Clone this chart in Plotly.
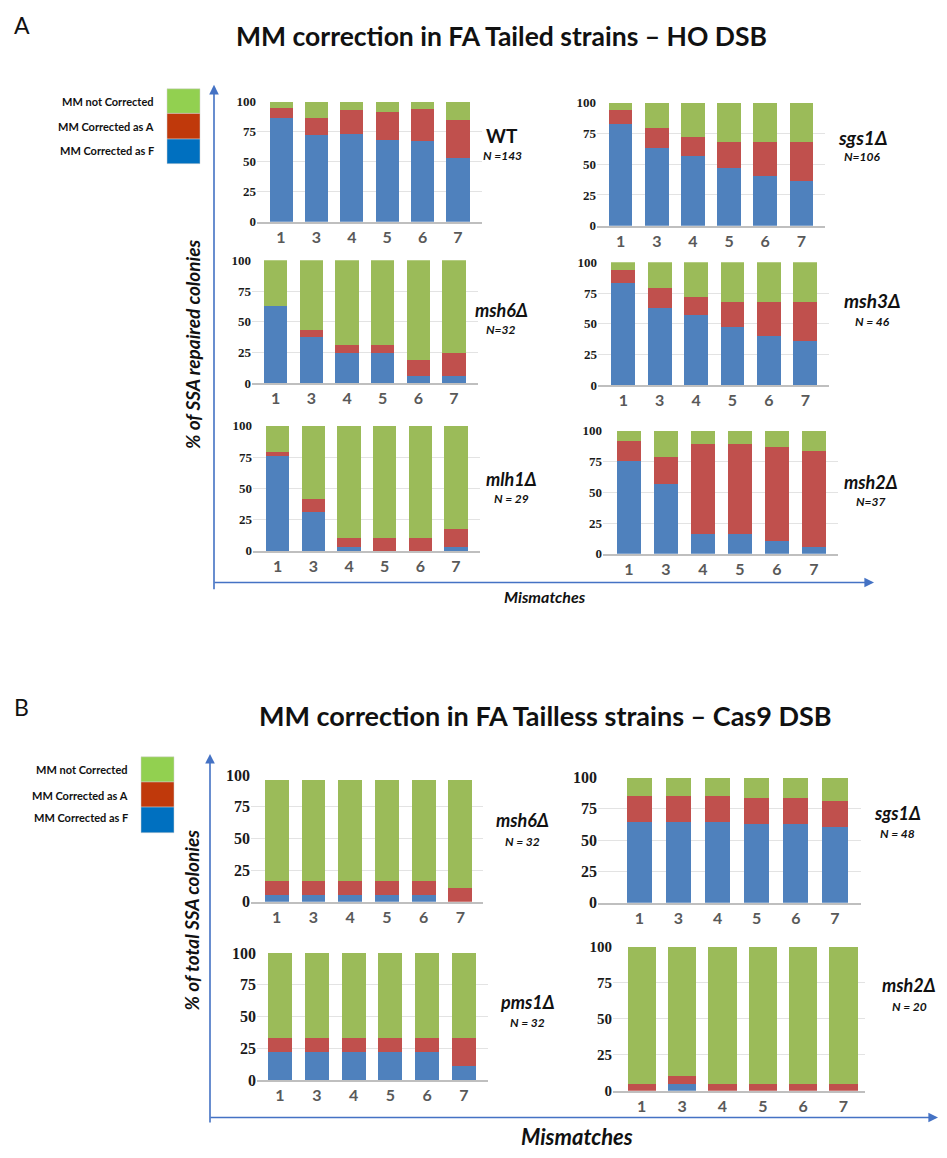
import plotly.graph_objects as go

W, H = 947, 1158


def fx(p):
    return p / W


def fy(p):
    return 1 - p / H


# ---------------- data ----------------
mismatches = ["1", "3", "4", "5", "6", "7"]
series_names = ["MM Corrected as F", "MM Corrected as A", "MM not Corrected"]

# Panel A: FA tailed strains, HO DSB (% of SSA repaired colonies)
wt_f = [86, 72, 73, 68, 67, 53]
wt_a = [9, 14, 20, 23, 27, 32]
wt_n = [5, 14, 7, 9, 6, 15]

sgs1_tailed_f = [83, 63, 57, 47, 40, 36]
sgs1_tailed_a = [11, 16, 15, 21, 28, 32]
sgs1_tailed_n = [6, 21, 28, 32, 32, 32]

msh6_tailed_f = [62.5, 37.5, 25, 25, 6.25, 6.25]
msh6_tailed_a = [0, 6.25, 6.25, 6.25, 12.5, 18.75]
msh6_tailed_n = [37.5, 56.25, 68.75, 68.75, 81.25, 75]

msh3_tailed_f = [83, 63, 57, 47, 40, 36]
msh3_tailed_a = [11, 16, 15, 21, 28, 32]
msh3_tailed_n = [6, 21, 28, 32, 32, 32]

mlh1_tailed_f = [75.9, 31.0, 3.4, 0, 0, 3.4]
mlh1_tailed_a = [3.4, 10.3, 6.9, 10.3, 10.3, 13.8]
mlh1_tailed_n = [20.7, 58.7, 89.7, 89.7, 89.7, 82.8]

msh2_tailed_f = [75.7, 56.8, 16.2, 16.2, 10.8, 5.4]
msh2_tailed_a = [16.2, 21.6, 73.0, 73.0, 75.7, 78.4]
msh2_tailed_n = [8.1, 21.6, 10.8, 10.8, 13.5, 16.2]

# Panel B: FA tailless strains, Cas9 DSB (% of total SSA colonies)
msh6_tailless_f = [5.5, 5.5, 5.5, 5.5, 5.5, 0]
msh6_tailless_a = [11, 11, 11, 11, 11, 11]
msh6_tailless_n = [79.5, 79.5, 79.5, 79.5, 79.5, 85]

sgs1_tailless_f = [64.6, 64.6, 64.6, 62.5, 62.5, 60.4]
sgs1_tailless_a = [20.8, 20.8, 20.8, 20.8, 20.8, 20.8]
sgs1_tailless_n = [14.6, 14.6, 14.6, 16.7, 16.7, 18.8]

pms1_tailless_f = [22, 22, 22, 22, 22, 11]
pms1_tailless_a = [11, 11, 11, 11, 11, 22]
pms1_tailless_n = [67, 67, 67, 67, 67, 67]

msh2_tailless_f = [0, 5, 0, 0, 0, 0]
msh2_tailless_a = [5, 5, 5, 5, 5, 5]
msh2_tailless_n = [95, 90, 95, 95, 95, 95]

y_ticks = [0, 25, 50, 75, 100]

# ---------------- styling ----------------
BAR_COLORS = ["#4F81BD", "#C0504D", "#9BBB59"]
LEGEND_COLORS = ["#0070C0", "#C0390B", "#92D050"]
ARROW = "#4472C4"
SANS = "Lato"
SERIF = "Liberation Serif"
INK = "#111111"

# subplot geometry in pixels: axis span (x0, x1), first/last bar centre (c0, c5),
# y pixel of 100 and of 0, tick font sizes, bar width, strain label placement
panels = [
    dict(data=(wt_f, wt_a, wt_n), x=(257, 482), c=(281, 458), y=(95, 217), xs=16, ys=13, bw=0.65,
         name="<b>WT</b>", nsize=19, n="<b><i>N =143</i></b>", lx=502, ly=129, ny=150),
    dict(data=(sgs1_tailed_f, sgs1_tailed_a, sgs1_tailed_n), x=(597, 825), c=(620.7, 801.3), y=(96, 221),
         xs=16, ys=13, bw=0.65,
         name="<b><i>sgs1Δ</i></b>", nsize=19, n="<b><i>N=106</i></b>", lx=862, ly=131, ny=151),
    dict(data=(msh6_tailed_f, msh6_tailed_a, msh6_tailed_n), x=(252, 478), c=(275.7, 454), y=(256, 381),
         xs=16, ys=13, bw=0.65,
         name="<b><i>msh6Δ</i></b>", nsize=18, n="<b><i>N=32</i></b>", lx=501, ly=306, ny=326),
    dict(data=(msh3_tailed_f, msh3_tailed_a, msh3_tailed_n), x=(598, 829), c=(623.3, 805.3), y=(258, 383),
         xs=16, ys=13, bw=0.65,
         name="<b><i>msh3Δ</i></b>", nsize=19, n="<b><i>N = 46</i></b>", lx=872, ly=297, ny=318),
    dict(data=(mlh1_tailed_f, mlh1_tailed_a, mlh1_tailed_n), x=(253, 480), c=(277.7, 456), y=(424, 551),
         xs=16, ys=13, bw=0.65,
         name="<b><i>mlh1Δ</i></b>", nsize=18, n="<b><i>N = 29</i></b>", lx=511, ly=478, ny=498),
    dict(data=(msh2_tailed_f, msh2_tailed_a, msh2_tailed_n), x=(603, 838), c=(629, 814), y=(429, 554),
         xs=16, ys=13, bw=0.65,
         name="<b><i>msh2Δ</i></b>", nsize=18, n="<b><i>N=37</i></b>", lx=871, ly=481, ny=501),
    dict(data=(msh6_tailless_f, msh6_tailless_a, msh6_tailless_n), x=(251, 483), c=(276.7, 460.4),
         y=(778.5, 907), xs=16, ys=16, bw=0.65,
         name="<b><i>msh6Δ</i></b>", nsize=18, n="<b><i>N = 32</i></b>", lx=522, ly=824, ny=846),
    dict(data=(sgs1_tailless_f, sgs1_tailless_a, sgs1_tailless_n), x=(598, 861), c=(639.3, 835),
         y=(781, 908), xs=16, ys=16, bw=0.64,
         name="<b><i>sgs1Δ</i></b>", nsize=18, n="<b><i>N = 48</i></b>", lx=897, ly=817, ny=838),
    dict(data=(pms1_tailless_f, pms1_tailless_a, pms1_tailless_n), x=(257, 488), c=(280, 464),
         y=(959, 1088), xs=16, ys=16, bw=0.65,
         name="<b><i>pms1Δ</i></b>", nsize=18, n="<b><i>N = 32</i></b>", lx=527, ly=1009, ny=1030),
    dict(data=(msh2_tailless_f, msh2_tailless_a, msh2_tailless_n), x=(613, 865), c=(641.7, 843.5),
         y=(953, 1099), xs=16, ys=15, bw=0.70,
         name="<b><i>msh2Δ</i></b>", nsize=18, n="<b><i>N = 20</i></b>", lx=909, ly=992, ny=1013),
]

fig = go.Figure()
layout_axes = {}
annotations = []

for i, p in enumerate(panels, start=1):
    xa = "x" if i == 1 else f"x{i}"
    ya = "y" if i == 1 else f"y{i}"
    for vals, nm, col in zip(p["data"], series_names, BAR_COLORS):
        fig.add_trace(go.Bar(x=mismatches, y=vals, name=nm, marker=dict(color=col, line=dict(width=0)),
                             xaxis=xa, yaxis=ya, showlegend=False, width=p["bw"]))
    x0, x1 = p["x"]
    c0, c5 = p["c"]
    step = (c5 - c0) / 5
    xr = [-(c0 - x0) / step, 5 + (x1 - c5) / step]
    y100, y0 = p["y"]
    key = "" if i == 1 else str(i)
    layout_axes["xaxis" + key] = dict(
        domain=[fx(x0), fx(x1)], anchor=ya, type="category", range=xr,
        showline=True, linecolor="#BFBFBF", linewidth=1.5, ticks="", showgrid=False,
        tickfont=dict(family=SANS, size=p["xs"], color="#595959", weight="bold"), fixedrange=True,
    )
    layout_axes["yaxis" + key] = dict(
        domain=[fy(y0), fy(y100)], anchor=xa, range=[0, 100], tickvals=y_ticks,
        showgrid=True, gridcolor="#E3E3E3", gridwidth=1, zeroline=False, showline=False, ticks="",
        tickfont=dict(family=SERIF, size=p["ys"], color="#1a1a1a", weight="bold"), fixedrange=True,
    )
    annotations.append(dict(x=fx(p["lx"]), y=fy(p["ly"]), text=p["name"],
                            font=dict(family=SANS, size=p["nsize"], color=INK)))
    annotations.append(dict(x=fx(p["lx"]), y=fy(p["ny"]), text=p["n"],
                            font=dict(family=SANS, size=12, color=INK)))

# figure titles, panel letters and axis titles
annotations += [
    dict(x=fx(22), y=fy(17), text="A", font=dict(family=SANS, size=23, color=INK)),
    dict(x=fx(501), y=fy(28), text="<b>MM correction in FA Tailed strains – HO DSB</b>",
         font=dict(family=SANS, size=26.5, color=INK)),
    dict(x=fx(21), y=fy(709), text="B", font=dict(family=SANS, size=23, color=INK)),
    dict(x=fx(545), y=fy(718), text="<b>MM correction in FA Tailless strains – Cas9 DSB</b>",
         font=dict(family=SANS, size=27, color=INK)),
    dict(x=fx(193), y=fy(342), text="<b><i>% of SSA repaired colonies</i></b>", textangle=-90,
         font=dict(family=SANS, size=19, color=INK)),
    dict(x=fx(545), y=fy(597), text="<b><i>Mismatches</i></b>",
         font=dict(family=SANS, size=16, color=INK)),
    dict(x=fx(191), y=fy(926), text="<b><i>% of total SSA colonies</i></b>", textangle=-90,
         font=dict(family=SANS, size=19, color=INK)),
    dict(x=fx(577), y=fy(1145), text="<b><i>Mismatches</i></b>",
         font=dict(family=SANS, size=22, color=INK)),
]


# axis arrows (head position, tail position, in pixels)
def arrow(hx, hy, tx, ty):
    return dict(x=fx(hx), y=fy(hy), ax=tx - hx, ay=ty - hy, axref="pixel", ayref="pixel",
                text="", showarrow=True, arrowhead=2, arrowsize=1.2, arrowwidth=1.6,
                arrowcolor=ARROW)


annotations += [
    arrow(214, 78, 214, 584),
    arrow(874, 583, 213, 583),
    arrow(210, 757, 210, 1127),
    arrow(938, 1126, 209, 1126),
]

# legend swatches
shapes = []
legend_sets = [
    dict(x0=167, x1=200, tops=[82, 107, 133, 158], tx=156, ty=[95, 120, 145]),
    dict(x0=141, x1=174, tops=[760, 785.5, 811, 837], tx=130, ty=[773, 799, 822]),
]
legend_order = [2, 1, 0]  # not corrected, A, F from top
for lg in legend_sets:
    for k, idx in enumerate(legend_order):
        shapes.append(dict(type="rect", xref="paper", yref="paper", x0=fx(lg["x0"]), x1=fx(lg["x1"]),
                           y0=fy(lg["tops"][k + 1]), y1=fy(lg["tops"][k]),
                           fillcolor=LEGEND_COLORS[idx], line=dict(color="#d0d0d0", width=0.5)))
        annotations.append(dict(x=fx(lg["tx"]), y=fy(lg["ty"][k]),
                                text=f"<b>{series_names[idx]}</b>", xanchor="right",
                                font=dict(family=SANS, size=11, color=INK)))

for a in annotations:
    a.setdefault("xref", "paper")
    a.setdefault("yref", "paper")
    a.setdefault("showarrow", False)
    a.setdefault("xanchor", "center")
    a.setdefault("yanchor", "middle")

fig.update_layout(
    width=W, height=H, margin=dict(l=0, r=0, t=0, b=0),
    paper_bgcolor="white", plot_bgcolor="white",
    barmode="stack", showlegend=False,
    annotations=annotations, shapes=shapes,
    **layout_axes,
)

fig.write_html("out.html")
